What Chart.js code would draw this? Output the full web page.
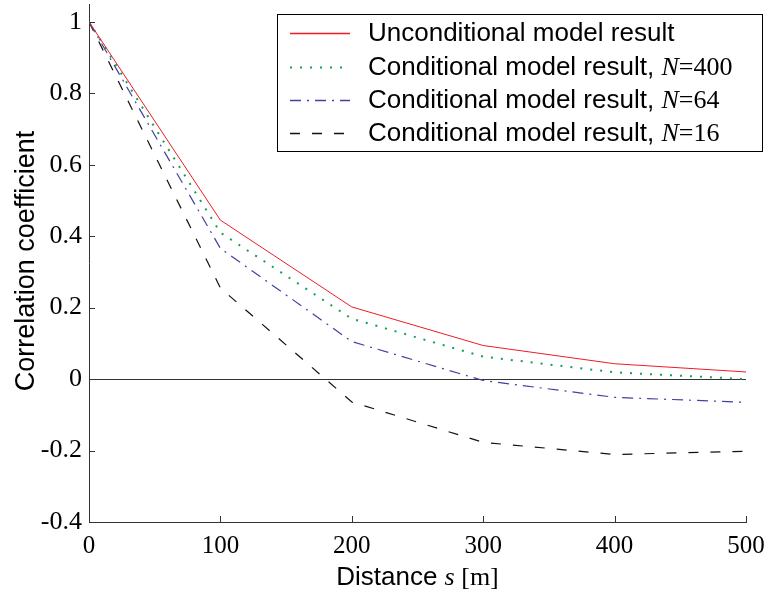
<!DOCTYPE html>
<html>
<head>
<meta charset="utf-8">
<script src="https://cdn.jsdelivr.net/npm/chart.js@4.4.1/dist/chart.umd.min.js"></script>
<style>
  html, body { margin: 0; padding: 0; background: #fff; }
  canvas { display: block; }
</style>
</head>
<body>
<canvas id="corrChart" width="769" height="602"></canvas>
<script>
// distance between points [m]
const distances = [0, 100, 200, 300, 400, 500];

// correlation coefficient per model
const unconditional = [1, 0.445, 0.202, 0.094, 0.043, 0.02];
const conditionalN400 = [1, 0.41, 0.169, 0.063, 0.019, 0.0];
const conditionalN64 = [1, 0.366, 0.105, -0.004, -0.051, -0.065];
const conditionalN16 = [1, 0.255, -0.064, -0.177, -0.211, -0.202];

const xTicks = [0, 100, 200, 300, 400, 500];
const yTicks = [-0.4, -0.2, 0, 0.2, 0.4, 0.6, 0.8, 1];

const seriesLabels = [
    'Unconditional model result',
    'Conditional model result, ',
    'Conditional model result, ',
    'Conditional model result, ',
];
const seriesN = [null, '400', '64', '16'];
const seriesColors = ['#ee1c24', '#12a150', '#4141a3', '#111111'];

const SANS = '"Liberation Sans", Arial, sans-serif';
const SERIF = '"Liberation Serif", "Times New Roman", serif';

const toPoints = (ys) => distances.map((d, i) => ({ x: d, y: ys[i] }));

// draw a row of text pieces with different fonts
function drawRuns(ctx, runs, x, y, align) {
    let total = 0;
    runs.forEach((r) => {
        ctx.font = r.font;
        total += ctx.measureText(r.text).width;
    });
    let cx = align === 'center' ? x - total / 2 : x;
    ctx.textAlign = 'left';
    ctx.textBaseline = 'middle';
    runs.forEach((r) => {
        ctx.font = r.font;
        ctx.fillText(r.text, cx, y);
        cx += ctx.measureText(r.text).width;
    });
}

const extras = {
    id: 'extras',
    afterDraw(chart) {
        const ctx = chart.ctx;
        const xs = chart.scales.x;
        const ys = chart.scales.y;
        const area = chart.chartArea;
        ctx.save();

        // ticks pointing into the plot
        ctx.strokeStyle = '#333';
        ctx.lineWidth = 1;
        ctx.setLineDash([]);
        ctx.beginPath();
        yTicks.forEach((v) => {
            const p = Math.round(ys.getPixelForValue(v)) + 0.5;
            ctx.moveTo(area.left, p);
            ctx.lineTo(area.left + 6, p);
        });
        xTicks.forEach((v) => {
            const p = Math.round(xs.getPixelForValue(v)) + 0.5;
            ctx.moveTo(p, area.bottom);
            ctx.lineTo(p, area.bottom - 6);
        });
        ctx.stroke();

        // axis titles
        ctx.fillStyle = '#000';
        drawRuns(ctx, [
            { text: 'Distance ', font: '26px ' + SANS },
            { text: 's', font: 'italic 26px ' + SERIF },
            { text: ' [m]', font: '26px ' + SERIF },
        ], (area.left + area.right) / 2, 578, 'center');

        ctx.save();
        ctx.translate(27, 261);
        ctx.rotate(-Math.PI / 2);
        drawRuns(ctx, [{ text: 'Correlation coefficient', font: '27px ' + SANS }], 0, 0, 'center');
        ctx.restore();

        // legend box
        ctx.fillStyle = '#fff';
        ctx.fillRect(277, 14, 486, 138);
        ctx.strokeStyle = '#000';
        ctx.lineWidth = 1;
        ctx.strokeRect(277.5, 14.5, 485, 137);

        const rows = [33, 67, 100, 133];
        chart.data.datasets.forEach((ds, i) => {
            const y = rows[i] + 0.5;
            ctx.strokeStyle = seriesColors[i];
            ctx.lineWidth = Math.max(ds.borderWidth, 1.3);
            ctx.setLineDash(ds.borderDash || []);
            ctx.beginPath();
            ctx.moveTo(290, y);
            ctx.lineTo(350, y);
            ctx.stroke();
            ctx.setLineDash([]);

            ctx.fillStyle = '#000';
            const runs = [{ text: seriesLabels[i], font: '26px ' + SANS }];
            if (seriesN[i]) {
                runs.push({ text: 'N', font: 'italic 26px ' + SERIF });
                runs.push({ text: '=' + seriesN[i], font: '26px ' + SERIF });
            }
            drawRuns(ctx, runs, 368, rows[i] + 1, 'left');
        });

        ctx.restore();
    },
};

new Chart(document.getElementById('corrChart'), {
    type: 'line',
    data: {
        datasets: [
            {
                label: 'Unconditional model result',
                data: toPoints(unconditional),
                borderColor: seriesColors[0],
                borderWidth: 1,
                borderDash: [],
            },
            {
                label: 'Conditional model result, N=400',
                data: toPoints(conditionalN400),
                borderColor: seriesColors[1],
                borderWidth: 2,
                borderDash: [2, 8],
            },
            {
                label: 'Conditional model result, N=64',
                data: toPoints(conditionalN64),
                borderColor: seriesColors[2],
                borderWidth: 1.2,
                borderDash: [11, 6, 2, 6],
            },
            {
                label: 'Conditional model result, N=16',
                data: toPoints(conditionalN16),
                borderColor: seriesColors[3],
                borderWidth: 1.2,
                borderDash: [10, 12],
            },
        ],
    },
    options: {
        responsive: false,
        animation: false,
        elements: {
            point: { radius: 0 },
            line: { tension: 0, fill: false },
        },
        layout: { padding: { left: 0, right: 23, top: 4, bottom: 0 } },
        plugins: {
            legend: { display: false },
            tooltip: { enabled: false },
        },
        scales: {
            x: {
                type: 'linear',
                min: 0,
                max: 500,
                afterBuildTicks: (s) => { s.ticks = xTicks.map((v) => ({ value: v })); },
                afterFit: (s) => {
                    s.height = 80;
                    s.paddingLeft = 0;
                    s.paddingRight = 0;
                },
                grid: { color: 'rgba(0,0,0,0)', drawTicks: false },
                border: { display: true, color: '#333', width: 1 },
                ticks: {
                    font: { family: SERIF, size: 25 },
                    color: '#000',
                    padding: 9,
                    maxRotation: 0,
                },
            },
            y: {
                type: 'linear',
                min: -0.4,
                max: 1.05,
                afterBuildTicks: (s) => { s.ticks = yTicks.map((v) => ({ value: v })); },
                afterFit: (s) => {
                    s.width = 89;
                    s.paddingTop = 0;
                    s.paddingBottom = 0;
                },
                grid: {
                    color: (c) => (c.tick && c.tick.value === 0 ? '#333' : 'rgba(0,0,0,0)'),
                    drawTicks: false,
                },
                border: { display: true, color: '#333', width: 1 },
                ticks: {
                    font: { family: SERIF, size: 26 },
                    color: '#000',
                    padding: 7,
                    callback: (v) => String(Math.round(v * 10) / 10),
                },
            },
        },
    },
    plugins: [extras],
});
</script>
</body>
</html>
